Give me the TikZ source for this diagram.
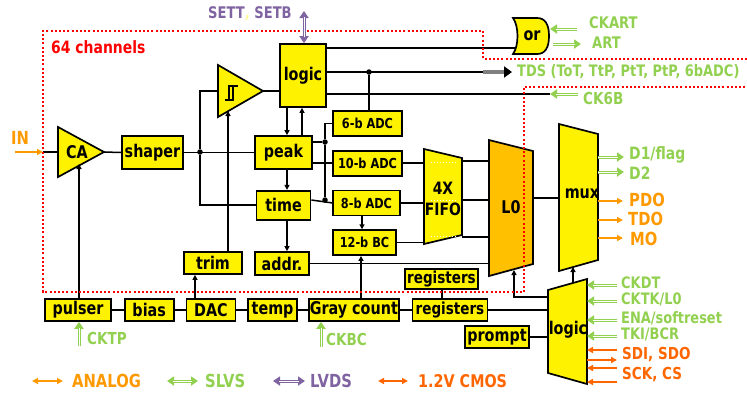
\documentclass[tikz,border=0pt]{standalone}
\usepackage{fontspec}
\setmainfont{DejaVu Sans}[FakeStretch=0.82]
\usetikzlibrary{arrows.meta,positioning}
\definecolor{analog}{HTML}{FF9900}
\definecolor{cmos}{HTML}{FF6600}
\definecolor{slvs}{HTML}{92D050}
\definecolor{lvds}{HTML}{8064A2}
\definecolor{lzfill}{HTML}{FFC000}

\begin{document}
\begin{tikzpicture}[
    x=1pt, y=-1pt,
    node distance=11pt,
    every node/.style={font=\bfseries\fontsize{17.5}{20}\selectfont},
    blk/.style={draw, fill=yellow, line width=1.7pt, inner sep=0pt},
    adcbox/.style={blk, minimum height=25pt, font=\bfseries\fontsize{13.8}{16}\selectfont},
    rowbox/.style={blk, minimum height=22pt},
    shapeline/.style={draw, line width=1.7pt, line join=miter},
    wire/.style={line width=1.5pt},
    sig/.style={wire, -{Triangle[length=5pt,width=5pt]}},
    dot/.style={circle, fill, inner sep=0pt, minimum size=5.5pt},
    lbl/.style={anchor=west, inner sep=0pt, font=\bfseries\fontsize{16.5}{19}\selectfont},
    leg/.style={anchor=west, inner sep=0pt, font=\bfseries\fontsize{18}{20}\selectfont},
    analogarr/.style={draw=analog, line width=1.6pt, -{Triangle[length=6pt,width=6pt]}},
    cmosarr/.style={draw=cmos, line width=1.6pt, -{Triangle[length=6pt,width=6pt]}},
    slvsarr/.style={draw=slvs, line width=3pt, -{Triangle[length=7pt,width=9pt]},
      postaction={draw=white, line width=0.9pt, -, shorten >=6pt}},
    chbound/.style={draw=red, line width=2pt, dash pattern=on 2pt off 2.2pt}
  ]
    \useasboundingbox (0,0) rectangle (747,392);

    % 三角形(CA, 比較器)
    \draw[shapeline, fill=yellow] (58,127) -- (104,152) -- (58,177) -- cycle;
    \node (ca) at (77,152) {CA};
    \coordinate (caIn) at (58,152);
    \coordinate (caOut) at (104,152);
    \coordinate (caBot) at (79,164);
    \draw[shapeline, fill=yellow] (218,65) -- (263,91) -- (218,117) -- cycle;
    \coordinate (stIn) at (218,91);
    \coordinate (stOut) at (263,91);
    \coordinate (stBot) at (228,111);
    \draw[line width=1.3pt] (225,100) -- (233,100) -- (233,86) -- (238,86)
      (229,100) -- (229,86) -- (233,86);

    % ブロック
    \node[blk, minimum width=61pt, minimum height=33pt] (shaper) at (152.5,152.5) {shaper};
    \node[blk, minimum width=57pt, minimum height=33pt] (peak) at (283.5,152.5) {peak};
    \node[blk, minimum width=54pt, minimum height=29pt, below=20pt of peak.south, anchor=north] (time) {time};
    \node[blk, minimum width=54pt, minimum height=23pt] (addr) at (282,263.5) {addr.};
    \node[blk, minimum width=58pt, minimum height=22pt] (trim) at (213,263) {trim};
    \node[blk, minimum width=46pt, minimum height=63pt] (logic) at (303,75.5) {logic};

    \node[adcbox, minimum width=69pt] (adc6) at (367.5,123.5) {6-b ADC};
    \node[adcbox, minimum width=69pt, below=13pt of adc6.south west, anchor=north west] (adc10) {10-b ADC};
    \node[adcbox, minimum width=67pt, below=13pt of adc10.south west, anchor=north west] (adc8) {8-b ADC};
    \node[adcbox, minimum width=63pt, below=13pt of adc8.south west, anchor=north west] (bc12) {12-b BC};

    % 下段
    \node[rowbox, minimum width=66pt] (pulser) at (78,310) {pulser};
    \node[rowbox, minimum width=49pt, right=12pt of pulser] (bias) {bias};
    \node[rowbox, minimum width=49pt, right=of bias] (dac) {DAC};
    \node[rowbox, minimum width=49pt, right=of dac] (temp) {temp};
    \node[rowbox, minimum width=90pt, right=10pt of temp] (gray) {Gray count};
    \node[rowbox, minimum width=75pt, right=12pt of gray, font=\bfseries\fontsize{16.5}{19}\selectfont] (regB) {registers};
    \node[blk, minimum width=73pt, minimum height=20pt, font=\bfseries\fontsize{16.5}{19}\selectfont] (regA) at (441.5,279) {registers};
    \node[rowbox, minimum width=64pt] (prompt) at (497,337) {prompt};

    % 台形(FIFO, L0, mux, logic)
    \draw[shapeline, fill=yellow] (424,149) -- (462,158) -- (462,235) -- (424,244) -- cycle;
    \draw[white, line width=1pt, dash pattern=on 1pt off 2pt]
      (431,162) -- (456,162) (431,200) -- (456,200) (431,236) -- (456,236);
    \node[align=center, font=\bfseries\fontsize{17}{21}\selectfont] (fifo) at (443,199) {4X\\FIFO};
    \draw[shapeline, fill=lzfill] (489,140) -- (533,151) -- (533,264) -- (489,276) -- cycle;
    \node (lz) at (511,207) {L0};
    \draw[shapeline, fill=yellow] (559,124) -- (598,134) -- (598,260) -- (559,271) -- cycle;
    \node (mux) at (582,194) {mux};
    \draw[shapeline, fill=yellow] (548,290) -- (587,279) -- (587,384) -- (548,373) -- cycle;
    \node (logicb) at (568,330) {logic};
    \coordinate (fifoW) at (424,0);
    \coordinate (fifoE) at (462,0);
    \coordinate (lzW) at (489,0);
    \coordinate (lzE) at (533,0);
    \coordinate (muxW) at (559,0);
    \coordinate (muxE) at (598,0);
    \coordinate (lbW) at (548,0);
    \coordinate (lbE) at (587,0);

    % or ゲート
    \draw[shapeline, fill=yellow] (513,18) -- (537,18)
      .. controls (545,18) and (549,24) .. (549,36)
      .. controls (549,48) and (545,54) .. (537,54) -- (513,54)
      .. controls (519,46) and (519,26) .. (513,18) -- cycle;
    \node (orgate) at (532,36) {or};

    % 配線
    \coordinate (border) at (43,152);
    \draw[wire] (border) -- (caIn);
    \draw[wire] (caOut) -- (shaper.west);
    \draw[wire] (shaper.east) -- (peak.west);
    \node[dot] (jsh) at (200,152) {};
    \draw[wire] (stIn) -| (jsh) |- (time.west);
    \draw[sig] (trim.north -| stBot) -- (stBot);
    \draw[wire] (stOut) -- (stOut -| logic.west);
    \draw[sig] (logic.south -| 287,0) -- (peak.north -| 287,0);
    \draw[sig] (peak.north -| 302,0) -- (logic.south -| 302,0);
    \draw[sig] (peak.south -| 287,0) -- (time.north -| 287,0);
    \draw[sig] (time.south -| 287,0) -- (addr.north -| 287,0);
    \draw[sig] (dac.north -| 195,0) -- (trim.south -| 195,0);
    \draw[sig] (pulser.north -| caBot) -- (caBot);

    \node[dot] (jpk) at (325,142) {};
    \node[dot] (jtm) at (325,200) {};
    \draw[wire] (peak.east |- jpk) -- (jpk);
    \draw[wire] (adc6.west) -| (jpk) -- (jtm);
    \draw[wire] (time.east |- jtm) -- (adc8.west);
    \draw[wire] (peak.east |- adc10.west) -- (adc10.west);
    \draw[sig] (adc8.south -| 362,0) -- (bc12.north -| 362,0);
    \draw[sig] (gray.north -| 361,0) -- (bc12.south -| 361,0);

    \draw[wire] (adc10.east) -- (adc10.east -| fifoW);
    \draw[wire] (adc8.east) -- (adc8.east -| fifoW);
    \draw[wire] (bc12.east) -- (bc12.east -| fifoW);
    \foreach \yy in {161,200,237}
      \draw[wire] (fifoE |- 0,\yy) -- (lzW |- 0,\yy);
    \draw[wire] (addr.east) -- (addr.east -| lzW);
    \draw[wire] (lzE |- 0,198) -- (muxW |- 0,198);

    % logic の出力
    \node[dot] (jtd) at (369,72) {};
    \coordinate (tdsA) at (483,72);
    \coordinate (tdsB) at (512,72);
    \draw[wire] (logic.east |- jtd) -- (tdsA);
    \draw[wire] (jtd) -- (adc6.north -| jtd);
    \draw[draw=gray, line width=3.2pt, -{Triangle[length=8pt,width=11pt,color=black]}] (tdsA) -- (tdsB);
    \draw[wire] (logic.east |- 0,48) -- (515,48);
    \coordinate (ck6b) at (550,94);
    \draw[wire] (logic.east |- ck6b) -- (ck6b);

    % 下段の接続
    \draw[wire] (pulser) -- (bias);
    \draw[wire] (bias) -- (dac);
    \draw[wire] (dac) -- (temp);
    \draw[wire] (temp) -- (gray);
    \draw[wire] (gray) -- (regB);
    \draw[wire] (regA.south -| 442,0) -- (regB.north -| 442,0);
    \draw[wire] (regB.east) -- (regB.east -| lbW);
    \draw[wire] (prompt.east) -- (prompt.east -| lbW);
    \draw[sig] (lbW |- 0,297) -| (514,270);
    \draw[sig] (573,283) -- (573,267);

    % 64 チャンネルの枠
    \draw[chbound] (747,59) -- (483,59) -- (483,31) -- (43,31) -- (43,292)
      -- (524,292) -- (524,87) -- (747,87);
    \node[anchor=west, inner sep=0pt, text=red, font=\bfseries\fontsize{17}{20}\selectfont] (chlbl) at (51,47) {64 channels};

    % 入出力ラベル
    \coordinate (inpin) at (15,152);
    \draw[analogarr] (inpin) -- (border);
    \node[leg, text=analog] (inlbl) at (11,138) {IN};
    \draw[draw=lvds, line width=3pt, {Triangle[length=7pt,width=9pt]}-{Triangle[length=7pt,width=9pt]},
      postaction={draw=white, line width=0.9pt, -, shorten >=6pt, shorten <=6pt}]
      (logic.north -| 304,0) -- (304,11);
    \node[lbl, font=\bfseries\fontsize{16}{19}\selectfont, text=lvds] (setlbl) at (208,14) {SETT\textcolor{yellow!40}{,} SETB};

    \draw[slvsarr] (577,29) -- (550,29);
    \node[lbl, text=slvs, font=\bfseries\fontsize{16}{19}\selectfont] (ckart) at (589,23) {CKART};
    \draw[slvsarr] (553,44) -- (581,44);
    \node[lbl, text=slvs, font=\bfseries\fontsize{16}{19}\selectfont] (art) at (592,43) {ART};
    \node[lbl, text=slvs, font=\bfseries\fontsize{15.8}{19}\selectfont] (tds) at (517,72) {TDS (ToT, TtP, PtT, PtP, 6bADC)};
    \draw[slvsarr] (578,94) -- (ck6b);
    \node[lbl, text=slvs] (ck6blbl) at (583,98) {CK6B};

    \draw[slvsarr] (muxE |- 0,157) -- (624,157);
    \node[lbl, text=slvs, font=\bfseries\fontsize{17}{19}\selectfont] (d1) at (629,155) {D1/flag};
    \draw[slvsarr] (muxE |- 0,172) -- (624,172);
    \node[lbl, text=slvs, font=\bfseries\fontsize{17}{19}\selectfont] (d2) at (629,173) {D2};
    \draw[analogarr] (muxE |- 0,201) -- (623,201);
    \node[leg, text=analog] (pdo) at (629,200) {PDO};
    \draw[analogarr] (muxE |- 0,220) -- (623,220);
    \node[leg, text=analog] (tdo) at (628,219) {TDO};
    \draw[analogarr] (muxE |- 0,238) -- (623,238);
    \node[leg, text=analog] (mo) at (630,239) {MO};

    \foreach \yy/\txt in {285/{CKDT}, 301/{CKTK/L0}, 320/{ENA/softreset}, 336/{TKI/BCR}} {
      \draw[slvsarr] (617,\yy) -- (lbE |- 0,\yy);
      \node[lbl, text=slvs, font=\bfseries\fontsize{15.8}{18}\selectfont] at (621,\yy-2) {\txt};
    }
    \draw[cmosarr] (617,350) -- (lbE |- 0,350);
    \draw[cmosarr] (lbE |- 0,360) -- (617,360);
    \draw[cmosarr] (617,368) -- (lbE |- 0,368);
    \draw[cmosarr] (617,382) -- (lbE |- 0,382);
    \node[lbl, text=cmos] (sdi) at (622,355) {SDI, SDO};
    \node[lbl, text=cmos] (sck) at (622,375) {SCK, CS};

    \draw[slvsarr] (79,346) -- (pulser.south -| 79,0);
    \node[lbl, text=slvs] (cktp) at (87,338) {CKTP};
    \draw[slvsarr] (321,347) -- (gray.south -| 321,0);
    \node[lbl, text=slvs] (ckbc) at (326,339) {CKBC};

    % 凡例
    \draw[analog, line width=1.6pt, {Triangle[length=6pt,width=6pt]}-{Triangle[length=6pt,width=6pt]}] (32,381) -- (63,381);
    \node[leg, text=analog] (legA) at (72,381) {ANALOG};
    \draw[draw=slvs, line width=3pt, {Triangle[length=7pt,width=9pt]}-{Triangle[length=7pt,width=9pt]},
      postaction={draw=white, line width=0.9pt, -, shorten >=6pt, shorten <=6pt}] (167,381) -- (198,381);
    \node[leg, text=slvs] (legS) at (205,381) {SLVS};
    \draw[draw=lvds, line width=3pt, {Triangle[length=7pt,width=9pt]}-{Triangle[length=7pt,width=9pt]},
      postaction={draw=white, line width=0.9pt, -, shorten >=6pt, shorten <=6pt}] (273,381) -- (305,381);
    \node[leg, text=lvds] (legL) at (310,381) {LVDS};
    \draw[cmos, line width=1.6pt, {Triangle[length=6pt,width=6pt]}-{Triangle[length=6pt,width=6pt]}] (378,381) -- (408,381);
    \node[leg, text=cmos, font=\bfseries\fontsize{17.5}{20}\selectfont] (legC) at (418,381) {1.2V CMOS};

  \end{tikzpicture}
\end{document}
